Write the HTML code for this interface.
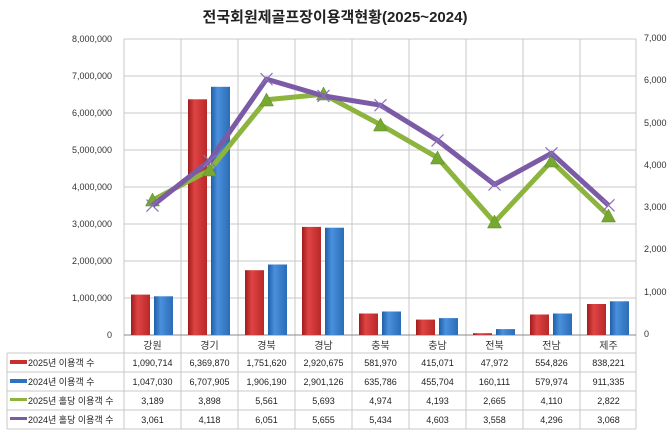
<!DOCTYPE html>
<html><head><meta charset="utf-8"><style>
body{margin:0;background:#fff}
svg{display:block}
text{font-family:"Liberation Sans","Noto Sans CJK KR",sans-serif}
</style></head><body>
<svg width="670" height="431" viewBox="0 0 670 431" xmlns="http://www.w3.org/2000/svg">
<defs>
<linearGradient id="r" x1="0" x2="1"><stop offset="0" stop-color="#a01c1c"/><stop offset=".35" stop-color="#e04444"/><stop offset="1" stop-color="#b82828"/></linearGradient>
<linearGradient id="b" x1="0" x2="1"><stop offset="0" stop-color="#1f5fa8"/><stop offset=".35" stop-color="#4a90dc"/><stop offset="1" stop-color="#2a6cb8"/></linearGradient>
</defs>
<rect width="670" height="431" fill="#fff"/>
<text x="335" y="22" text-anchor="middle" font-size="15" font-weight="bold" fill="#222">전국회원제골프장이용객현황(2025~2024)</text>
<g stroke="#c8c8c8" stroke-width="1">
<line x1="124" y1="39" x2="636" y2="39"/><line x1="124" y1="76" x2="636" y2="76"/><line x1="124" y1="113" x2="636" y2="113"/><line x1="124" y1="150" x2="636" y2="150"/><line x1="124" y1="187" x2="636" y2="187"/><line x1="124" y1="224" x2="636" y2="224"/><line x1="124" y1="261" x2="636" y2="261"/><line x1="124" y1="298" x2="636" y2="298"/>
<line x1="181" y1="39" x2="181" y2="429"/><line x1="238" y1="39" x2="238" y2="429"/><line x1="295" y1="39" x2="295" y2="429"/><line x1="352" y1="39" x2="352" y2="429"/><line x1="409" y1="39" x2="409" y2="429"/><line x1="466" y1="39" x2="466" y2="429"/><line x1="523" y1="39" x2="523" y2="429"/><line x1="580" y1="39" x2="580" y2="429"/>
<line x1="124" y1="39" x2="124" y2="429"/><line x1="636" y1="39" x2="636" y2="429"/>
<line x1="7" y1="353" x2="636" y2="353"/><line x1="7" y1="372" x2="636" y2="372"/><line x1="7" y1="391" x2="636" y2="391"/><line x1="7" y1="410" x2="636" y2="410"/><line x1="7" y1="429" x2="636" y2="429"/>
<line x1="7" y1="353" x2="7" y2="429"/>
</g>
<line x1="124" y1="335" x2="636" y2="335" stroke="#888"/>
<g font-size="9" fill="#333" text-anchor="end">
<text x="112" y="42">8,000,000</text><text x="112" y="79">7,000,000</text><text x="112" y="116">6,000,000</text><text x="112" y="153">5,000,000</text><text x="112" y="190">4,000,000</text><text x="112" y="227">3,000,000</text><text x="112" y="264">2,000,000</text><text x="112" y="301">1,000,000</text><text x="112" y="338">0</text>
</g>
<g font-size="9" fill="#333">
<text x="644" y="41">7,000</text><text x="644" y="83">6,000</text><text x="644" y="126">5,000</text><text x="644" y="168">4,000</text><text x="644" y="210">3,000</text><text x="644" y="252">2,000</text><text x="644" y="295">1,000</text><text x="644" y="337">0</text>
</g>
<g fill="url(#r)">
<rect x="131" y="294.6" width="19" height="40.4"/><rect x="188" y="99.3" width="19" height="235.7"/><rect x="245" y="270.2" width="19" height="64.8"/><rect x="302" y="226.9" width="19" height="108.1"/><rect x="359" y="313.5" width="19" height="21.5"/><rect x="416" y="319.6" width="19" height="15.4"/><rect x="473" y="333.2" width="19" height="1.8"/><rect x="530" y="314.5" width="19" height="20.5"/><rect x="587" y="304" width="19" height="31"/>
</g>
<g fill="url(#b)">
<rect x="154" y="296.3" width="19" height="38.7"/><rect x="211" y="86.8" width="19" height="248.2"/><rect x="268" y="264.5" width="19" height="70.5"/><rect x="325" y="227.7" width="19" height="107.3"/><rect x="382" y="311.5" width="19" height="23.5"/><rect x="439" y="318.1" width="19" height="16.9"/><rect x="496" y="329.1" width="19" height="5.9"/><rect x="553" y="313.5" width="19" height="21.5"/><rect x="610" y="301.3" width="19" height="33.7"/>
</g>
<polyline fill="none" stroke="#8db43e" stroke-width="5" stroke-linejoin="round" points="152.5,200.2 209.5,170.2 266.5,99.8 323.5,94.3 380.5,124.7 437.5,157.7 494.5,222.3 551.5,161.2 608.5,215.7"/>
<g fill="#76a832" stroke="#5a8a22" stroke-width=".5">
<polygon points="152.5,193 145.5,206 159.5,206"/><polygon points="209.5,163 202.5,176 216.5,176"/><polygon points="266.5,93 259.5,106 273.5,106"/><polygon points="323.5,87 316.5,100 330.5,100"/><polygon points="380.5,118 373.5,131 387.5,131"/><polygon points="437.5,151 430.5,164 444.5,164"/><polygon points="494.5,215 487.5,228 501.5,228"/><polygon points="551.5,154 544.5,167 558.5,167"/><polygon points="608.5,209 601.5,222 615.5,222"/>
</g>
<polyline fill="none" stroke="#7b5aa6" stroke-width="5" stroke-linejoin="round" points="152.5,205.6 209.5,160.9 266.5,79.1 323.5,95.9 380.5,105.2 437.5,140.4 494.5,184.5 551.5,153.3 608.5,205.3"/>
<g stroke="#8a70b8" stroke-width="1.2">
<path d="M146.5,199.6l12,12M158.5,199.6l-12,12"/><path d="M203.5,154.9l12,12M215.5,154.9l-12,12"/><path d="M260.5,73.1l12,12M272.5,73.1l-12,12"/><path d="M317.5,89.9l12,12M329.5,89.9l-12,12"/><path d="M374.5,99.2l12,12M386.5,99.2l-12,12"/><path d="M431.5,134.4l12,12M443.5,134.4l-12,12"/><path d="M488.5,178.5l12,12M500.5,178.5l-12,12"/><path d="M545.5,147.3l12,12M557.5,147.3l-12,12"/><path d="M602.5,199.3l12,12M614.5,199.3l-12,12"/>
</g>
<g font-size="10" fill="#333" text-anchor="middle">
<text x="152.5" y="349">강원</text><text x="209.5" y="349">경기</text><text x="266.5" y="349">경북</text><text x="323.5" y="349">경남</text><text x="380.5" y="349">충북</text><text x="437.5" y="349">충남</text><text x="494.5" y="349">전북</text><text x="551.5" y="349">전남</text><text x="608.5" y="349">제주</text>
</g>
<rect x="10" y="360" width="17" height="4" fill="#c83030"/>
<rect x="10" y="379" width="17" height="4" fill="#2f72c0"/>
<rect x="10" y="398" width="17" height="3" fill="#8db43e"/>
<rect x="10" y="417" width="17" height="3" fill="#7b5aa6"/>
<g font-size="9" fill="#222">
<text x="28" y="366">2025년 이용객 수</text><text x="28" y="385">2024년 이용객 수</text><text x="28" y="404">2025년 홀당 이용객 수</text><text x="28" y="423">2024년 홀당 이용객 수</text>
</g>
<g font-size="9" fill="#222" text-anchor="middle">
<text x="152.5" y="366">1,090,714</text><text x="209.5" y="366">6,369,870</text><text x="266.5" y="366">1,751,620</text><text x="323.5" y="366">2,920,675</text><text x="380.5" y="366">581,970</text><text x="437.5" y="366">415,071</text><text x="494.5" y="366">47,972</text><text x="551.5" y="366">554,826</text><text x="608.5" y="366">838,221</text>
<text x="152.5" y="385">1,047,030</text><text x="209.5" y="385">6,707,905</text><text x="266.5" y="385">1,906,190</text><text x="323.5" y="385">2,901,126</text><text x="380.5" y="385">635,786</text><text x="437.5" y="385">455,704</text><text x="494.5" y="385">160,111</text><text x="551.5" y="385">579,974</text><text x="608.5" y="385">911,335</text>
<text x="152.5" y="404">3,189</text><text x="209.5" y="404">3,898</text><text x="266.5" y="404">5,561</text><text x="323.5" y="404">5,693</text><text x="380.5" y="404">4,974</text><text x="437.5" y="404">4,193</text><text x="494.5" y="404">2,665</text><text x="551.5" y="404">4,110</text><text x="608.5" y="404">2,822</text>
<text x="152.5" y="423">3,061</text><text x="209.5" y="423">4,118</text><text x="266.5" y="423">6,051</text><text x="323.5" y="423">5,655</text><text x="380.5" y="423">5,434</text><text x="437.5" y="423">4,603</text><text x="494.5" y="423">3,558</text><text x="551.5" y="423">4,296</text><text x="608.5" y="423">3,068</text>
</g>
</svg>
</body></html>
